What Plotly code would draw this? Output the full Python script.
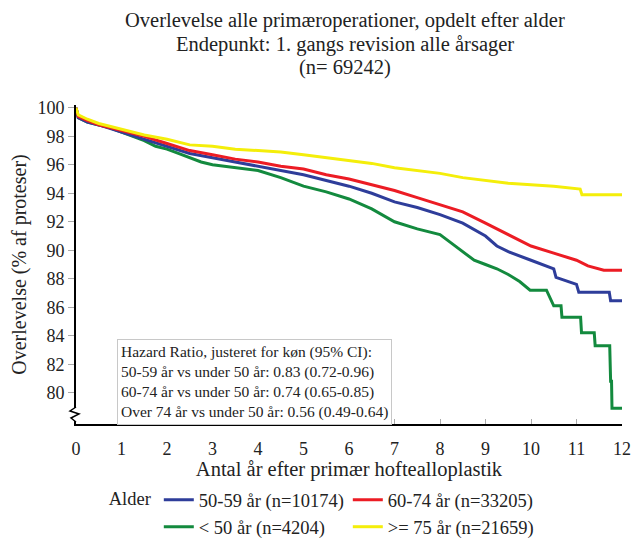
import plotly.graph_objects as go

# Kaplan-Meier survival (%) per age group, years after primary hip arthroplasty
t_lt50 = [0, 0.05, 0.25, 0.5, 0.75, 1, 1.25, 1.5, 1.75, 2, 2.25, 2.5, 2.75, 3, 3.5, 4, 4.5,
          5, 5.5, 6, 6.5, 7, 7.5, 8, 8.25, 8.5, 8.75, 9, 9.25, 9.5, 9.75, 9.98, 10.34, 10.5,
          10.66, 10.68, 11.09, 11.11, 11.39, 11.41, 11.73, 11.75, 11.77, 11.78, 12]
s_lt50 = [100, 99.3, 99.0, 98.8, 98.6, 98.3, 98.0, 97.7, 97.3, 97.1, 96.8, 96.5, 96.2, 96.0,
          95.8, 95.6, 95.1, 94.5, 94.1, 93.6, 92.9, 92.0, 91.5, 91.1, 90.5, 89.9, 89.3, 89.0,
          88.7, 88.3, 87.8, 87.2, 87.2, 86.1, 86.1, 85.3, 85.3, 84.2, 84.2, 83.3, 83.3, 80.8,
          80.8, 78.9, 78.9]

t_5059 = [0, 0.05, 0.25, 0.5, 1, 1.5, 2, 2.5, 3, 3.5, 4, 4.5, 5, 5.5, 6, 6.5, 7, 7.5, 8, 8.5,
          9, 9.25, 9.5, 10, 10.5, 10.55, 11, 11.05, 11.72, 11.75, 12]
s_5059 = [100, 99.3, 99.0, 98.8, 98.3, 97.8, 97.3, 96.8, 96.5, 96.2, 95.9, 95.6, 95.3, 94.9,
          94.5, 94.0, 93.4, 93.0, 92.5, 91.9, 91.0, 90.3, 89.9, 89.3, 88.7, 88.1, 87.6, 87.05,
          87.05, 86.45, 86.45]

t_6074 = [0, 0.05, 0.25, 0.5, 1, 1.5, 2, 2.5, 3, 3.5, 4, 4.5, 5, 5.5, 6, 6.5, 7, 7.5, 8, 8.5,
          9, 9.5, 10, 10.5, 11, 11.25, 11.6, 12]
s_6074 = [100, 99.4, 99.1, 98.8, 98.4, 98.0, 97.5, 97.0, 96.7, 96.4, 96.2, 95.9, 95.7, 95.3,
          95.0, 94.6, 94.2, 93.7, 93.2, 92.7, 91.9, 91.1, 90.3, 89.8, 89.3, 88.9, 88.6, 88.6]

t_ge75 = [0, 0.05, 0.25, 0.5, 1, 1.5, 2, 2.5, 3, 3.5, 4, 4.5, 5, 5.5, 6, 6.5, 7, 7.5, 8, 8.5,
          9, 9.5, 10, 10.5, 11.08, 11.12, 12]
s_ge75 = [100, 99.5, 99.2, 98.9, 98.5, 98.1, 97.8, 97.4, 97.3, 97.1, 97.0, 96.9, 96.7, 96.5,
          96.3, 96.1, 95.8, 95.6, 95.4, 95.1, 94.9, 94.7, 94.6, 94.5, 94.3, 93.9, 93.9]

groups = [
    # (name, times, survival, colour, legend position)
    ("< 50 år (n=4204)", t_lt50, s_lt50, "#138a3e", 3),
    ("50-59 år (n=10174)", t_5059, s_5059, "#2e3d9a", 1),
    ("60-74 år (n=33205)", t_6074, s_6074, "#ec1c24", 2),
    (">= 75 år (n=21659)", t_ge75, s_ge75, "#f4ee0a", 4),
]

title_lines = [
    "Overlevelse alle primæroperationer, opdelt efter alder",
    "Endepunkt: 1. gangs revision alle årsager",
    "(n= 69242)",
]

hr_lines = [
    "Hazard Ratio, justeret for køn (95% CI):",
    "50-59 år vs under 50 år: 0.83 (0.72-0.96)",
    "60-74 år vs under 50 år: 0.74 (0.65-0.85)",
    "Over 74 år vs under 50 år: 0.56 (0.49-0.64)",
]

x_ticks = list(range(0, 13))
y_ticks = list(range(80, 101, 2))

SERIF = "Liberation Serif, Times New Roman, serif"

# plot area in pixels: left 76, top 105, bottom 424 (height 319)
PLOT_TOP, PLOT_H = 105, 319

fig = go.Figure()
for name, t, s, col, rank in groups:
    fig.add_trace(go.Scatter(
        x=t, y=s, mode="lines", name=name, line=dict(color=col, width=3),
        legendrank=rank,
    ))

fig.update_layout(
    width=635, height=540,
    margin=dict(l=76, r=13, t=PLOT_TOP, b=540 - PLOT_TOP - PLOT_H, autoexpand=False),
    paper_bgcolor="white", plot_bgcolor="white",
    font=dict(family=SERIF, size=18, color="#222"),
    xaxis=dict(
        range=[0, 12], tickvals=x_ticks, ticktext=[str(v) for v in x_ticks],
        showgrid=False, zeroline=False, showline=True, linecolor="black", linewidth=2,
        ticks="inside", ticklen=5, tickcolor="#aaa", tickwidth=1,
        tickfont=dict(size=18), ticklabelstandoff=7,
        title=dict(text="Antal år efter primær hoftealloplastik", font=dict(size=20.5), standoff=13),
    ),
    yaxis=dict(
        range=[77.8, 100.2], tickvals=y_ticks, ticktext=[str(v) for v in y_ticks],
        showgrid=False, zeroline=False, showline=True, linecolor="black", linewidth=2,
        ticks="outside", ticklen=6, tickcolor="#aaa", tickwidth=1,
        tickfont=dict(size=18),
        title=dict(text="Overlevelse (% af proteser)", font=dict(size=20), standoff=5),
    ),
    legend=dict(
        orientation="h", xref="container", yref="container",
        x=0.168, xanchor="left", y=0.109, yanchor="top",
        title=dict(text="Alder", font=dict(size=18.5), side="left"),
        font=dict(size=18.5), entrywidth=144, tracegroupgap=0, itemwidth=30,
        bgcolor="rgba(0,0,0,0)",
    ),
    showlegend=True,
)

# chart heading, three centred lines above the plot area
for line, yc in zip(title_lines, [21, 45, 68]):
    fig.add_annotation(
        xref="paper", yref="paper", x=0.4927, y=(PLOT_TOP + PLOT_H - yc) / PLOT_H,
        xanchor="center", yanchor="middle", text=line, showarrow=False,
        font=dict(family=SERIF, size=20.5, color="#222"),
    )

# hazard ratio box
fig.add_annotation(
    xref="paper", yref="paper", x=0.075, y=0.266, xanchor="left", yanchor="top",
    text="<br>".join(hr_lines), align="left", showarrow=False,
    font=dict(family=SERIF, size=15.5, color="#222"),
    bordercolor="#c8c8c8", borderwidth=1, borderpad=3, bgcolor="white",
)

# axis break marker on the value axis
fig.add_shape(
    type="rect", xref="paper", yref="paper", xsizemode="pixel", ysizemode="pixel",
    xanchor=0, yanchor=0, x0=-4, x1=4, y0=3, y1=16,
    line=dict(width=0), fillcolor="white", layer="above",
)
fig.add_shape(
    type="path", xref="paper", yref="paper", xsizemode="pixel", ysizemode="pixel",
    xanchor=0, yanchor=0,
    path="M 0 17 L -6 13 L 3 10 L -5 6 L 0 2",
    line=dict(color="black", width=1.5), layer="above",
)

fig.write_html("out.html")
